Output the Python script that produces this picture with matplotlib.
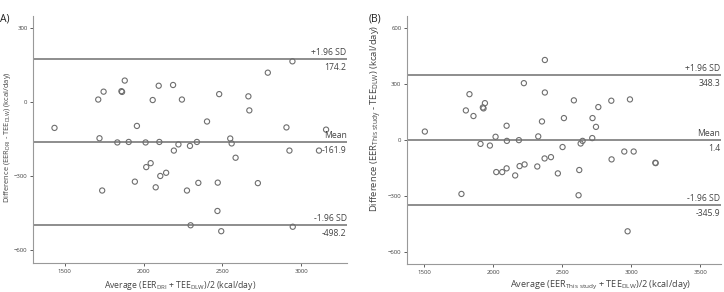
import matplotlib
matplotlib.use('Agg')
import matplotlib.pyplot as plt

plt.rcParams['font.family'] = ['Open Sans', 'DejaVu Sans']
plt.rcParams['mathtext.default'] = 'regular'

# Panel A: EER(DRI) vs TEE(DLW)
a_avg = [1436, 1713, 1747, 1881, 1860, 1864, 1958, 2058, 2096, 2187, 2243, 2402,
         2479, 2664, 2670, 2787, 2943, 2905, 3156, 1721, 1834, 1906, 2013, 2100,
         2221, 2294, 2338, 2549, 2558, 2192, 2924, 3111, 2583, 2017, 2045, 2143,
         2106, 1945, 1738, 2077, 2275, 2347, 2470, 2724, 2468, 2298, 2492, 2945]
a_diff = [-104, 11, 43, 88, 45, 42, -96, 9, 67, 70, 11, -78,
          33, 24, -33, 120, 166, -102, -111, -146, -163, -161, -163, -161,
          -171, -177, -161, -147, -167, -196, -196, -196, -225, -263, -247, -286,
          -299, -322, -358, -345, -358, -327, -326, -328, -441, -499, -523, -505]
a_lines = [174.2, -161.9, -498.2]

# Panel B: EER(this study) vs TEE(DLW)
b_avg = [1505, 1802, 1828, 1857, 1925, 1930, 1940, 1908, 1976, 2017, 2097, 2099,
         2186, 2222, 2326, 2353, 2374, 2374, 2502, 2512, 2584, 2633, 2647, 2717,
         2719, 2744, 2761, 2855, 2990, 2949, 3017, 2372, 2418, 2857, 2319, 2191,
         2227, 2097, 2065, 2022, 2159, 2468, 2623, 3174, 3176, 1770, 2618, 2973]
b_diff = [46, 159, 246, 129, 175, 170, 198, -20, -29, 18, 77, -4,
          0, 305, 20, 100, 429, 255, -37, 118, 213, -18, -4, 11,
          118, 71, 177, 211, 218, -61, -61, -98, -91, -103, -141, -139,
          -130, -151, -171, -171, -189, -178, -160, -121, -123, -288, -295, -488]
b_lines = [348.3, 1.4, -345.9]

line_names = ['+1.96 SD', 'Mean', '-1.96 SD']

fig = plt.figure(figsize=(7.24, 2.92), dpi=100)
ax_a = fig.add_axes([0.0456, 0.0993, 0.434, 0.846])
ax_b = fig.add_axes([0.562, 0.0959, 0.434, 0.849])

text_col = '#444444'
grey = '#7a7a7a'


def draw_panel(ax, avg, diff, lines, xlim, ylim, xticks, yticks):
    ax.scatter(avg, diff, s=14, facecolors='none', edgecolors='#6e6e6e',
               linewidths=0.8, zorder=3)
    for val, name in zip(lines, line_names):
        ax.axhline(val, color=grey, lw=1.2, zorder=2)
        ax.annotate(name, xy=(0.998, val), xycoords=('axes fraction', 'data'),
                    xytext=(0, 1.5), textcoords='offset points',
                    ha='right', va='bottom', fontsize=6.2, color=text_col)
        ax.annotate(f'{val:.1f}', xy=(0.998, val), xycoords=('axes fraction', 'data'),
                    xytext=(0, -3), textcoords='offset points',
                    ha='right', va='top', fontsize=6.2, color=text_col)
    ax.set_xlim(*xlim)
    ax.set_ylim(*ylim)
    ax.set_xticks(xticks)
    ax.set_yticks(yticks)
    ax.tick_params(labelsize=4.3, colors=text_col, length=2.5, width=0.6, pad=1.5)
    for side in ['top', 'right']:
        ax.spines[side].set_visible(False)
    for side in ['left', 'bottom']:
        ax.spines[side].set_color('#999999')
        ax.spines[side].set_linewidth(0.8)


draw_panel(ax_a, a_avg, a_diff, a_lines, (1300, 3290), (-652, 350),
           [1500, 2000, 2500, 3000], [-600, -300, 0, 300])
draw_panel(ax_b, b_avg, b_diff, b_lines, (1375, 3650), (-663, 664),
           [1500, 2000, 2500, 3000, 3500], [-600, -300, 0, 300, 600])

ax_a.set_xlabel('Average (EER$_{DRI}$ + TEE$_{DLW}$)/2 (kcal/day)',
                fontsize=6.2, color=text_col, va='center')
ax_a.xaxis.set_label_coords(0.468, -0.090)
ax_a.set_ylabel('Difference (EER$_{DRI}$ - TEE$_{DLW}$) (kcal/day)',
                fontsize=5.4, color=text_col, va='center')
ax_a.yaxis.set_label_coords(-0.080, 0.51)

ax_b.set_xlabel('Average (EER$_{This\\ study}$ + TEE$_{DLW}$)/2 (kcal/day)',
                fontsize=6.6, color=text_col, va='center')
ax_b.xaxis.set_label_coords(0.615, -0.088)
ax_b.set_ylabel('Difference (EER$_{This\\ study}$ - TEE$_{DLW}$) (kcal/day)',
                fontsize=6.8, color=text_col, va='center')
ax_b.yaxis.set_label_coords(-0.096, 0.589)

fig.text(0.0, 0.935, 'A)', fontsize=7.5, color='#222222', ha='left', va='center')
fig.text(0.509, 0.935, '(B)', fontsize=7.5, color='#222222', ha='left', va='center')

fig.savefig('out.png', dpi=100)
